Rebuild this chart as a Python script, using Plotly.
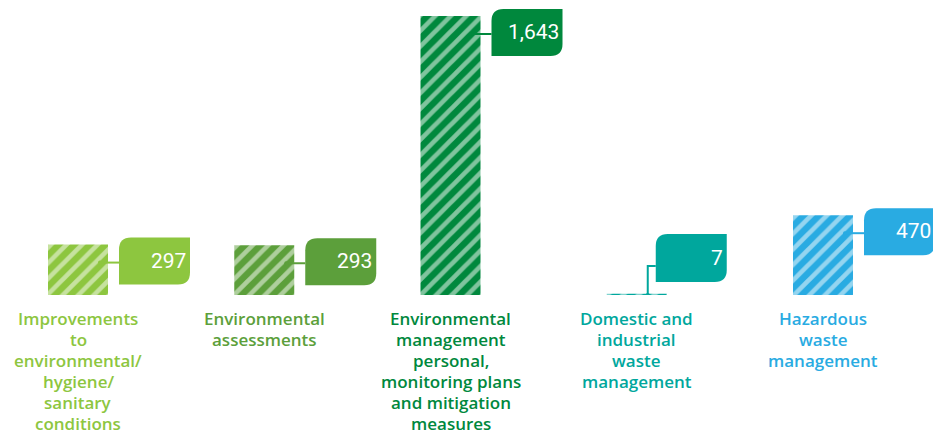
import plotly.graph_objects as go

# ---- data ----
categories = [
    "Improvements<br>to<br>environmental/<br>hygiene/<br>sanitary<br>conditions",
    "Environmental<br>assessments",
    "Environmental<br>management<br>personal,<br>monitoring plans<br>and mitigation<br>measures",
    "Domestic and<br>industrial<br>waste<br>management",
    "Hazardous<br>waste<br>management",
]
values = [297, 293, 1643, 7, 470]
value_labels = ["297", "293", "1,643", "7", "470"]

# ---- style ----
colors = ["#8DC63F", "#5C9F3B", "#00883D", "#00A79D", "#29ABE2"]
LABEL_FONT = "Open Sans"
VALUE_FONT = "Roboto"
W, H = 933, 431
BASELINE = 295
TOP = 16
FIRST_CENTER = 78
PX_PER_UNIT = 186.25
x_positions = list(range(len(categories)))
ymax = max(values) * BASELINE / (BASELINE - TOP)


def lighten(hex_color, f=0.5):
    h = hex_color.lstrip("#")
    rgb = [int(h[k:k + 2], 16) for k in (0, 2, 4)]
    rgb = [round(c + (255 - c) * f) for c in rgb]
    return "#%02X%02X%02X" % tuple(rgb)


fig = go.Figure()
for i, (v, col) in enumerate(zip(values, colors)):
    fig.add_trace(go.Bar(
        x=[x_positions[i]],
        y=[v],
        width=60 / PX_PER_UNIT,
        marker=dict(
            color=col,
            line=dict(width=0),
            pattern=dict(shape="/", bgcolor=col, fgcolor=lighten(col, 0.5), fgopacity=1,
                         size=11, solidity=0.42),
        ),
        hoverinfo="skip",
    ))

shapes = []
annotations = []
r = 12
for i, (v, lab, col, cat) in enumerate(zip(values, value_labels, colors, categories)):
    small = v < 0.05 * max(values)
    if not small:
        L, R, T, B = 41, 112, 7, -40
        cy = -18
        anchor_y = v
        shapes.append(dict(type="path", xref="x", yref="y", xsizemode="pixel", ysizemode="pixel",
                           xanchor=i, yanchor=anchor_y,
                           path=f"M 22,{cy} L {L},{cy}", line=dict(color=col, width=2)))
        dot_x, dot_y = 22, cy
        ty = -16
    else:
        L, R, T, B = 19, 90, 61, 13
        cy = 29
        anchor_y = 0
        shapes.append(dict(type="path", xref="x", yref="y", xsizemode="pixel", ysizemode="pixel",
                           xanchor=i, yanchor=anchor_y,
                           path=f"M 11,0 L 11,{cy} L {L},{cy}", line=dict(color=col, width=2)))
        dot_x, dot_y = 11, 0
        ty = 37
    shapes.append(dict(type="circle", xref="x", yref="y", xsizemode="pixel", ysizemode="pixel",
                       xanchor=i, yanchor=anchor_y,
                       x0=dot_x - 2, x1=dot_x + 2, y0=dot_y - 2, y1=dot_y + 2,
                       fillcolor=col, line=dict(width=0)))
    path = (f"M {L},{B} L {L},{T - r} Q {L},{T} {L + r},{T} L {R},{T} "
            f"L {R},{B + r} Q {R},{B} {R - r},{B} Z")
    shapes.append(dict(type="path", xref="x", yref="y", xsizemode="pixel", ysizemode="pixel",
                       xanchor=i, yanchor=anchor_y, path=path,
                       fillcolor=col, line=dict(width=0), layer="above"))
    annotations.append(dict(x=i, y=anchor_y, xref="x", yref="y", text=lab, showarrow=False,
                            xanchor="right", yanchor="middle", xshift=R - 2, yshift=ty,
                            font=dict(family=VALUE_FONT, size=21, color="white")))
    for k, line in enumerate(cat.split("<br>")):
        annotations.append(dict(x=i, y=0, xref="x", yref="y", text=line, showarrow=False,
                                xanchor="center", yanchor="middle", yshift=-23 - 21 * k,
                                font=dict(family=LABEL_FONT, size=17, color=col, weight=600)))

fig.update_layout(
    width=W, height=H,
    margin=dict(l=0, r=0, t=0, b=H - BASELINE, pad=0),
    paper_bgcolor="white", plot_bgcolor="white",
    showlegend=False,
    hovermode=False,
    xaxis=dict(range=[-FIRST_CENTER / PX_PER_UNIT,
                      (W - FIRST_CENTER) / PX_PER_UNIT], visible=False, fixedrange=True),
    yaxis=dict(range=[0, ymax], visible=False, fixedrange=True),
    shapes=shapes,
    annotations=annotations,
)

fig.write_html(
    "out.html",
    config={"displayModeBar": False, "staticPlot": True},
    post_script="document.body.style.margin='0';document.body.style.overflow='hidden';",
)
